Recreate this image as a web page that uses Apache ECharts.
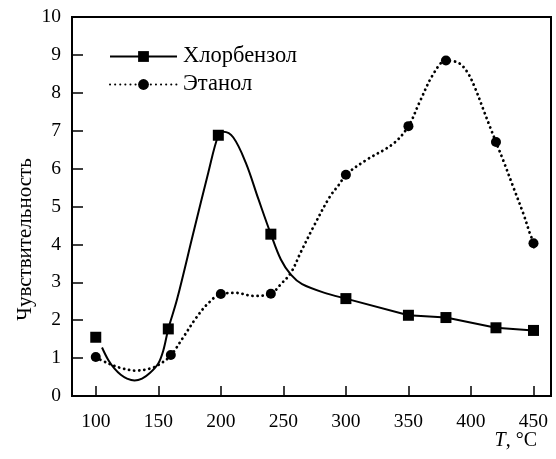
<!DOCTYPE html>
<html>
<head>
<meta charset="utf-8">
<script src="https://cdn.jsdelivr.net/npm/echarts@6/dist/echarts.min.js"></script>
<style>
  html, body { margin: 0; padding: 0; background: #fff; }
  #chart { width: 556px; height: 459px; }
</style>
</head>
<body>
<div id="chart"></div>
<script>
// Temperature ticks (°C)
var xTicks = [100, 150, 200, 250, 300, 350, 400, 450];

// Measured points
var chloroT   = [100, 158, 198, 240, 300, 350, 380, 420, 450];
var chloroVal = [1.55, 1.77, 6.88, 4.27, 2.57, 2.13, 2.07, 1.80, 1.73];
var ethanolT   = [100, 160, 200, 240, 300, 350, 380, 420, 450];
var ethanolVal = [1.03, 1.08, 2.69, 2.70, 5.84, 7.12, 8.85, 6.70, 4.03];

// Chlorobenzene: fitted curve up to 300 °C, then straight segments between points
var chloroCurveT   = [105, 110, 115, 120, 125, 131, 137, 143, 150, 154, 158, 165, 178, 190, 198, 202, 210, 220, 230, 240, 248, 256, 265, 285, 300];
var chloroCurveVal = [1.28, 0.95, 0.72, 0.56, 0.46, 0.41, 0.46, 0.60, 0.86, 1.20, 1.77, 2.55, 4.30, 5.90, 6.88, 6.97, 6.82, 6.15, 5.20, 4.27, 3.60, 3.20, 2.95, 2.70, 2.57];
var chloroTailT   = [300, 350, 380, 420, 450];
var chloroTailVal = [2.57, 2.13, 2.07, 1.80, 1.73];

// Ethanol: fitted curve
var ethanolCurveT   = [100, 110, 120, 132, 145, 153, 160, 170, 180, 190, 200, 212, 226, 240, 248, 256, 264, 274, 287, 295, 300, 316, 338, 350, 359, 370, 380, 390, 397, 403, 410, 415, 420, 426, 434, 442, 447, 450, 450.6];
var ethanolCurveVal = [1.02, 0.86, 0.74, 0.67, 0.74, 0.88, 1.07, 1.55, 2.05, 2.45, 2.69, 2.72, 2.64, 2.70, 2.95, 3.25, 3.80, 4.46, 5.25, 5.60, 5.84, 6.22, 6.66, 7.12, 7.76, 8.50, 8.85, 8.79, 8.55, 8.15, 7.55, 7.12, 6.70, 6.20, 5.50, 4.80, 4.30, 4.03, 3.80];

function pairs(xs, ys) {
  return xs.map(function (x, i) { return [x, ys[i]]; });
}

var FONT = 'Liberation Serif';
var chart = echarts.init(document.getElementById('chart'), null, { renderer: 'canvas' });

chart.setOption({
  animation: false,
  backgroundColor: '#fff',
  textStyle: { fontFamily: FONT, color: '#000' },
  grid: {
    left: 72, right: 5, top: 17, bottom: 63,
    containLabel: false,
    outerBoundsMode: 'none',
    show: true, borderColor: '#000', borderWidth: 2, backgroundColor: 'transparent'
  },
  legend: {
    data: ['Хлорбензол', 'Этанол'],
    orient: 'vertical',
    left: 104, top: 40,
    itemWidth: 67, itemHeight: 13.5,
    itemGap: 5,
    textStyle: { fontFamily: FONT, fontSize: 22.5, color: '#000', lineHeight: 21, padding: [0, 0, 0, 1] }
  },
  xAxis: {
    type: 'value',
    min: 81, max: 464,
    name: '{i|T}, °C',
    nameLocation: 'end',
    nameGap: -14,
    nameMoveOverlap: false,
    nameTextStyle: {
      fontFamily: FONT, fontSize: 20, color: '#000',
      align: 'right', verticalAlign: 'top', padding: [35, 0, 0, 0],
      rich: { i: { fontFamily: FONT, fontSize: 20, fontStyle: 'italic', color: '#000' } }
    },
    splitLine: { show: false },
    axisLine: { lineStyle: { color: '#000', width: 2 } },
    axisTick: { inside: true, length: 10, customValues: xTicks, lineStyle: { color: '#000', width: 1.5 } },
    axisLabel: { customValues: xTicks, margin: 16, fontFamily: FONT, fontSize: 19.5, color: '#000' }
  },
  yAxis: {
    type: 'value',
    min: 0, max: 10, interval: 1,
    name: 'Чувствительность',
    nameLocation: 'middle',
    nameGap: 36,
    nameMoveOverlap: false,
    nameTextStyle: { fontFamily: FONT, fontSize: 21, color: '#000', padding: [0, 66, 0, 0] },
    splitLine: { show: false },
    axisLine: { lineStyle: { color: '#000', width: 2 } },
    axisTick: { inside: true, length: 11, lineStyle: { color: '#000', width: 1.5 } },
    axisLabel: { margin: 11, fontFamily: FONT, fontSize: 19.5, color: '#000' }
  },
  series: [
    {
      name: 'Хлорбензол',
      type: 'line',
      data: pairs(chloroCurveT, chloroCurveVal),
      smooth: 0.35,
      symbol: 'rect',
      showSymbol: false,
      lineStyle: { color: '#000', width: 2 },
      itemStyle: { color: '#000' },
      z: 2
    },
    {
      name: 'Хлорбензол (отрезки)',
      type: 'line',
      data: pairs(chloroTailT, chloroTailVal),
      smooth: false,
      symbol: 'none',
      lineStyle: { color: '#000', width: 2 },
      z: 2
    },
    {
      name: 'Этанол',
      type: 'line',
      data: pairs(ethanolCurveT, ethanolCurveVal),
      smooth: 0.35,
      symbol: 'circle',
      showSymbol: false,
      lineStyle: { color: '#000', width: 2.8, type: [0.1, 5], cap: 'round' },
      itemStyle: { color: '#000' },
      z: 2
    },
    {
      name: 'Хлорбензол (точки)',
      type: 'scatter',
      data: pairs(chloroT, chloroVal),
      symbol: 'rect',
      symbolSize: 11,
      itemStyle: { color: '#000', opacity: 1 },
      z: 3
    },
    {
      name: 'Этанол (точки)',
      type: 'scatter',
      data: pairs(ethanolT, ethanolVal),
      symbol: 'circle',
      symbolSize: 10,
      itemStyle: { color: '#000', opacity: 1 },
      z: 3
    }
  ]
});
</script>
</body>
</html>
